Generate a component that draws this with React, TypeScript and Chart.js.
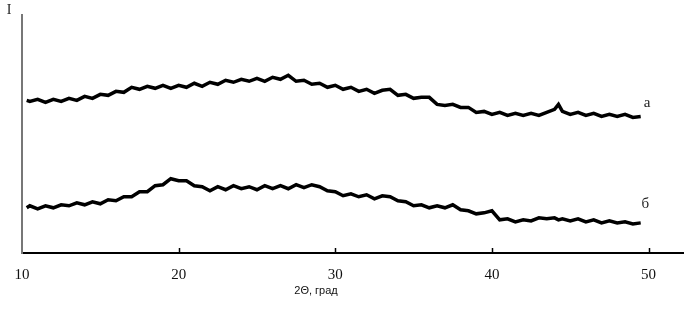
import { useEffect, useRef } from "react";
import { Chart, registerables } from "chart.js";

Chart.register(...registerables);

// 2θ, degrees
const twoTheta = [
  10.3, 10.5, 11, 11.5, 12, 12.5, 13, 13.5, 14, 14.5, 15, 15.5, 16, 16.5, 17, 17.5, 18, 18.5, 19, 19.5,
  20, 20.5, 21, 21.5, 22, 22.5, 23, 23.5, 24, 24.5, 25, 25.5, 26, 26.5, 27, 27.5, 28, 28.5, 29, 29.5,
  30, 30.5, 31, 31.5, 32, 32.5, 33, 33.5, 34, 34.5, 35, 35.5, 36, 36.5, 37, 37.5, 38, 38.5, 39, 39.5,
  40, 40.5, 41, 41.5, 42, 42.5, 43, 43.5, 44, 44.25, 44.5, 45, 45.5, 46, 46.5, 47, 47.5, 48, 48.5, 49, 49.5,
];

// curve "а" intensity (arb. units)
const intensityA = [
  152, 151, 153, 150, 153, 151, 154, 152, 156, 154, 158, 157, 161, 160, 165, 163, 166, 164, 167, 164,
  167, 165, 169, 166, 170, 168, 172, 170, 173, 171, 174, 171, 175, 173, 177, 171, 172, 168, 169, 165,
  167, 163, 165, 161, 163, 159, 162, 163, 157, 158, 154, 155, 155, 148, 147, 148, 145, 145, 140, 141,
  138, 140, 137, 139, 137, 139, 137, 140, 143, 148, 141, 138, 140, 137, 139, 136, 138, 136, 138, 135, 136,
];

// curve "б" intensity (arb. units)
const intensityB = [
  45, 47, 44, 47, 45, 48, 47, 50, 48, 51, 49, 53, 52, 56, 56, 61, 61, 67, 68, 74,
  72, 72, 67, 66, 62, 66, 63, 67, 64, 66, 63, 67, 64, 67, 64, 68, 65, 68, 66, 62,
  61, 57, 59, 56, 58, 54, 57, 56, 52, 51, 47, 48, 45, 47, 45, 48, 43, 42, 39, 40,
  42, 33, 34, 31, 33, 32, 35, 34, 35, 33, 34, 32, 34, 31, 33, 30, 32, 30, 31, 29, 30,
];

const xTickValues = [10, 20, 30, 40, 50];
const innerTickValues = [20, 30, 40, 50];
const seriesNames = ["а", "б"];
const seriesLabelX = [49.9, 49.8];
const seriesLabelY = [149, 49];
const xAxisTitle = "2Θ, град";
const yAxisTitle = "I";

const serif = "'Liberation Serif', 'Times New Roman', serif";
const sans = "'Liberation Sans', Arial, sans-serif";

const annotations = {
  id: "annotations",
  afterDraw(chart: any) {
    const { ctx, scales, chartArea } = chart;
    const xs = scales.x;
    const ys = scales.y;
    ctx.save();
    // inward tick marks
    ctx.strokeStyle = "#000";
    ctx.lineWidth = 1.5;
    innerTickValues.forEach((v) => {
      const px = Math.round(xs.getPixelForValue(v)) + 0.5;
      ctx.beginPath();
      ctx.moveTo(px, chartArea.bottom);
      ctx.lineTo(px, chartArea.bottom - 5);
      ctx.stroke();
    });
    // curve labels
    ctx.fillStyle = "#222";
    ctx.font = `15px ${serif}`;
    ctx.textAlign = "center";
    ctx.textBaseline = "middle";
    seriesNames.forEach((n, i) => {
      ctx.fillText(n, xs.getPixelForValue(seriesLabelX[i]), ys.getPixelForValue(seriesLabelY[i]));
    });
    // y axis title
    ctx.font = `14px ${serif}`;
    ctx.fillText(yAxisTitle, 9, 10);
    // x axis title
    ctx.font = `11px ${sans}`;
    ctx.fillStyle = "#111";
    ctx.fillText(xAxisTitle, 316, 291);
    ctx.restore();
  },
};

export default function App() {
  const ref = useRef<HTMLCanvasElement | null>(null);

  useEffect(() => {
    if (!ref.current) return;
    const chart = new Chart(ref.current, {
      type: "line",
      data: {
        datasets: [
          {
            label: seriesNames[0],
            data: twoTheta.map((x, i) => ({ x, y: intensityA[i] })),
            borderColor: "#000",
            borderWidth: 3.5,
            pointRadius: 0,
            tension: 0,
          },
          {
            label: seriesNames[1],
            data: twoTheta.map((x, i) => ({ x, y: intensityB[i] })),
            borderColor: "#000",
            borderWidth: 3.5,
            pointRadius: 0,
            tension: 0,
          },
        ],
      },
      options: {
        responsive: false,
        animation: false,
        layout: { padding: { left: 14, top: 15, right: 3, bottom: 29 } },
        plugins: { legend: { display: false }, tooltip: { enabled: false } },
        scales: {
          x: {
            type: "linear",
            min: 10,
            max: 52.2,
            afterBuildTicks: (scale: any) => {
              scale.ticks = xTickValues.map((v) => ({ value: v }));
            },
            grid: { display: false },
            border: { display: true, color: "#000", width: 2 },
            ticks: {
              autoSkip: false,
              maxRotation: 0,
              padding: 5,
              color: "#111",
              font: { family: serif, size: 15 },
            },
          },
          y: {
            type: "linear",
            min: 0,
            max: 237,
            grid: { display: false },
            border: { display: true, color: "#777", width: 2 },
            ticks: { display: false },
          },
        },
      },
      plugins: [annotations],
    });
    return () => chart.destroy();
  }, []);

  return (
    <div style={{ position: "absolute", left: 0, top: 0, width: 686, height: 318, background: "#fff" }}>
      <canvas ref={ref} width={686} height={318} />
    </div>
  );
}
